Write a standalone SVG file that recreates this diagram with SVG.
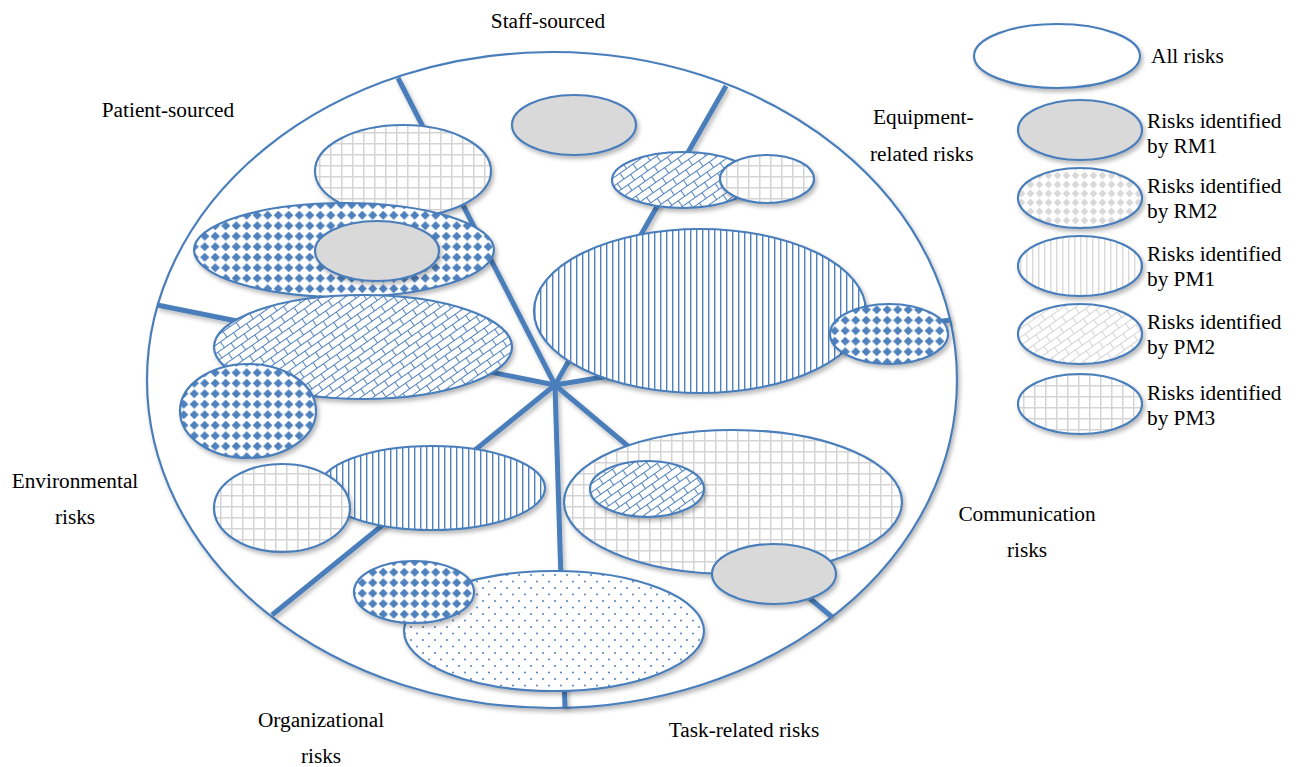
<svg xmlns="http://www.w3.org/2000/svg" width="1296" height="767" viewBox="0 0 1296 767">
<style>
.lbl{font-family:"Liberation Serif","Times New Roman",serif;font-size:21.3px;fill:#000}
.e{stroke:#4a7ebb;stroke-width:2.2}
.spoke{stroke:#4a7ebb;stroke-width:5;fill:none}
</style>
<defs>
<filter id="sh" x="-10%" y="-10%" width="125%" height="135%">
<feDropShadow dx="2" dy="3" stdDeviation="2" flood-color="#000" flood-opacity="0.28"/>
</filter>
<pattern id="diaB" width="10.5" height="10.5" patternUnits="userSpaceOnUse">
<rect width="10.5" height="10.5" fill="#fff"/>
<polygon points="5.25,0.6 9.9,5.25 5.25,9.9 0.6,5.25" fill="#4f81bd"/>
</pattern>
<pattern id="diaG" width="9" height="9" patternUnits="userSpaceOnUse">
<rect width="9" height="9" fill="#fff"/>
<polygon points="4.5,0.6 8.4,4.5 4.5,8.4 0.6,4.5" fill="#d9d9d9"/>
</pattern>
<pattern id="vertB" width="6" height="10" patternUnits="userSpaceOnUse">
<rect width="6" height="10" fill="#fff"/>
<rect x="0" y="0" width="1.4" height="10" fill="#4f81bd"/>
</pattern>
<pattern id="vertG" width="6" height="10" patternUnits="userSpaceOnUse">
<rect width="6" height="10" fill="#fff"/>
<rect x="0" y="0" width="1.4" height="10" fill="#d9d9d9"/>
</pattern>
<pattern id="brickB" width="16" height="14" patternUnits="userSpaceOnUse" patternTransform="rotate(-35)">
<rect width="16" height="14" fill="#fff"/>
<path d="M0,0.5H16 M0,7.5H16 M0.5,0V7.5 M8.5,7.5V14" stroke="#4f81bd" stroke-width="1" fill="none"/>
</pattern>
<pattern id="brickG" width="16" height="14" patternUnits="userSpaceOnUse" patternTransform="rotate(-35)">
<rect width="16" height="14" fill="#fff"/>
<path d="M0,0.5H16 M0,7.5H16 M0.5,0V7.5 M8.5,7.5V14" stroke="#d4d4d4" stroke-width="1" fill="none"/>
</pattern>
<pattern id="grid" width="11" height="11" patternUnits="userSpaceOnUse">
<rect width="11" height="11" fill="#fff"/>
<path d="M0,0.75H11 M0.75,0V11" stroke="#d4d4d4" stroke-width="1.5" fill="none"/>
</pattern>
<pattern id="dots" width="12" height="13" patternUnits="userSpaceOnUse">
<rect width="12" height="13" fill="#fff"/>
<circle cx="3" cy="3" r="1" fill="#4f81bd"/>
<circle cx="9" cy="9.5" r="1" fill="#4f81bd"/>
</pattern>
</defs>

<rect width="1296" height="767" fill="#fff"/>

<g id="all-risks-circle">
<ellipse class="e" cx="552" cy="380" rx="405" ry="328" fill="#fff" filter="url(#sh)"/>
</g>

<g id="connectors" filter="url(#sh)">
<line class="spoke" x1="555" y1="385" x2="398" y2="78"/>
<line class="spoke" x1="555" y1="385" x2="726" y2="86"/>
<line class="spoke" x1="555" y1="385" x2="950" y2="320"/>
<line class="spoke" x1="555" y1="385" x2="832" y2="617"/>
<line class="spoke" x1="555" y1="385" x2="565" y2="707"/>
<line class="spoke" x1="555" y1="385" x2="272" y2="615"/>
<line class="spoke" x1="555" y1="385" x2="157" y2="305"/>
</g>

<g id="staff-rm1"><ellipse class="e" cx="574" cy="125" rx="62" ry="30" fill="#d9d9d9" filter="url(#sh)"/></g>
<g id="patient-pm3"><ellipse class="e" cx="403" cy="171" rx="88" ry="46" fill="url(#grid)" filter="url(#sh)"/></g>
<g id="patient-rm2"><ellipse class="e" cx="344" cy="250" rx="150" ry="47" fill="url(#diaB)" filter="url(#sh)"/></g>
<g id="patient-rm1"><ellipse class="e" cx="377" cy="251" rx="62" ry="30" fill="#d9d9d9" filter="url(#sh)"/></g>
<g id="patient-pm2"><ellipse class="e" cx="363" cy="347" rx="149" ry="52" fill="url(#brickB)" filter="url(#sh)"/></g>
<g id="env-rm2"><ellipse class="e" cx="248" cy="411" rx="68" ry="47" fill="url(#diaB)" filter="url(#sh)"/></g>

<g id="equip-pm2"><ellipse class="e" cx="683" cy="180" rx="71" ry="28" fill="url(#brickB)" filter="url(#sh)"/></g>
<g id="equip-pm3"><ellipse class="e" cx="767" cy="179" rx="47" ry="24" fill="url(#grid)" filter="url(#sh)"/></g>
<g id="equip-pm1"><ellipse class="e" cx="700" cy="311" rx="166" ry="82" fill="url(#vertB)" filter="url(#sh)"/></g>
<g id="equip-rm2"><ellipse class="e" cx="889" cy="334" rx="59" ry="30" fill="url(#diaB)" filter="url(#sh)"/></g>

<g id="env-pm1"><ellipse class="e" cx="432" cy="488" rx="113" ry="42" fill="url(#vertB)" filter="url(#sh)"/></g>
<g id="env-pm3"><ellipse class="e" cx="282" cy="508" rx="68" ry="44" fill="url(#grid)" filter="url(#sh)"/></g>

<g id="comm-pm3"><ellipse class="e" cx="733" cy="502" rx="169" ry="72" fill="url(#grid)" filter="url(#sh)"/></g>
<g id="comm-pm2"><ellipse class="e" cx="647" cy="489" rx="57" ry="28" fill="url(#brickB)" filter="url(#sh)"/></g>
<g id="comm-rm1"><ellipse class="e" cx="774" cy="574" rx="62" ry="30" fill="#d9d9d9" filter="url(#sh)"/></g>

<g id="task-dots"><ellipse class="e" cx="554" cy="631" rx="150" ry="60" fill="url(#dots)" filter="url(#sh)"/></g>
<g id="org-rm2"><ellipse class="e" cx="414" cy="592" rx="60" ry="31" fill="url(#diaB)" filter="url(#sh)"/></g>

<g id="region-labels">
<text class="lbl" x="548" y="28" text-anchor="middle">Staff-sourced</text>
<text class="lbl" x="168" y="117" text-anchor="middle">Patient-sourced</text>
<text class="lbl" x="873" y="124">Equipment-</text>
<text class="lbl" x="870" y="161">related risks</text>
<text class="lbl" x="75" y="488" text-anchor="middle">Environmental</text>
<text class="lbl" x="75" y="524" text-anchor="middle">risks</text>
<text class="lbl" x="1027" y="521" text-anchor="middle">Communication</text>
<text class="lbl" x="1027" y="557" text-anchor="middle">risks</text>
<text class="lbl" x="744" y="737" text-anchor="middle">Task-related risks</text>
<text class="lbl" x="321" y="727" text-anchor="middle">Organizational</text>
<text class="lbl" x="321" y="763" text-anchor="middle">risks</text>
</g>

<g id="legend-all"><ellipse class="e" cx="1057" cy="56" rx="83" ry="32" fill="#fff" filter="url(#sh)"/><text class="lbl" x="1151" y="63">All risks</text></g>
<g id="legend-rm1"><ellipse class="e" cx="1080" cy="130" rx="62" ry="30" fill="#d9d9d9" filter="url(#sh)"/><text class="lbl" x="1147" y="128">Risks identified</text><text class="lbl" x="1147" y="153">by RM1</text></g>
<g id="legend-rm2"><ellipse class="e" cx="1080" cy="198" rx="62" ry="30" fill="url(#diaG)" filter="url(#sh)"/><text class="lbl" x="1147" y="193">Risks identified</text><text class="lbl" x="1147" y="218">by RM2</text></g>
<g id="legend-pm1"><ellipse class="e" cx="1080" cy="266" rx="62" ry="30" fill="url(#vertG)" filter="url(#sh)"/><text class="lbl" x="1147" y="261">Risks identified</text><text class="lbl" x="1147" y="286">by PM1</text></g>
<g id="legend-pm2"><ellipse class="e" cx="1080" cy="334" rx="62" ry="30" fill="url(#brickG)" filter="url(#sh)"/><text class="lbl" x="1147" y="329">Risks identified</text><text class="lbl" x="1147" y="354">by PM2</text></g>
<g id="legend-pm3"><ellipse class="e" cx="1080" cy="404" rx="62" ry="30" fill="url(#grid)" filter="url(#sh)"/><text class="lbl" x="1147" y="400">Risks identified</text><text class="lbl" x="1147" y="425">by PM3</text></g>
</svg>
